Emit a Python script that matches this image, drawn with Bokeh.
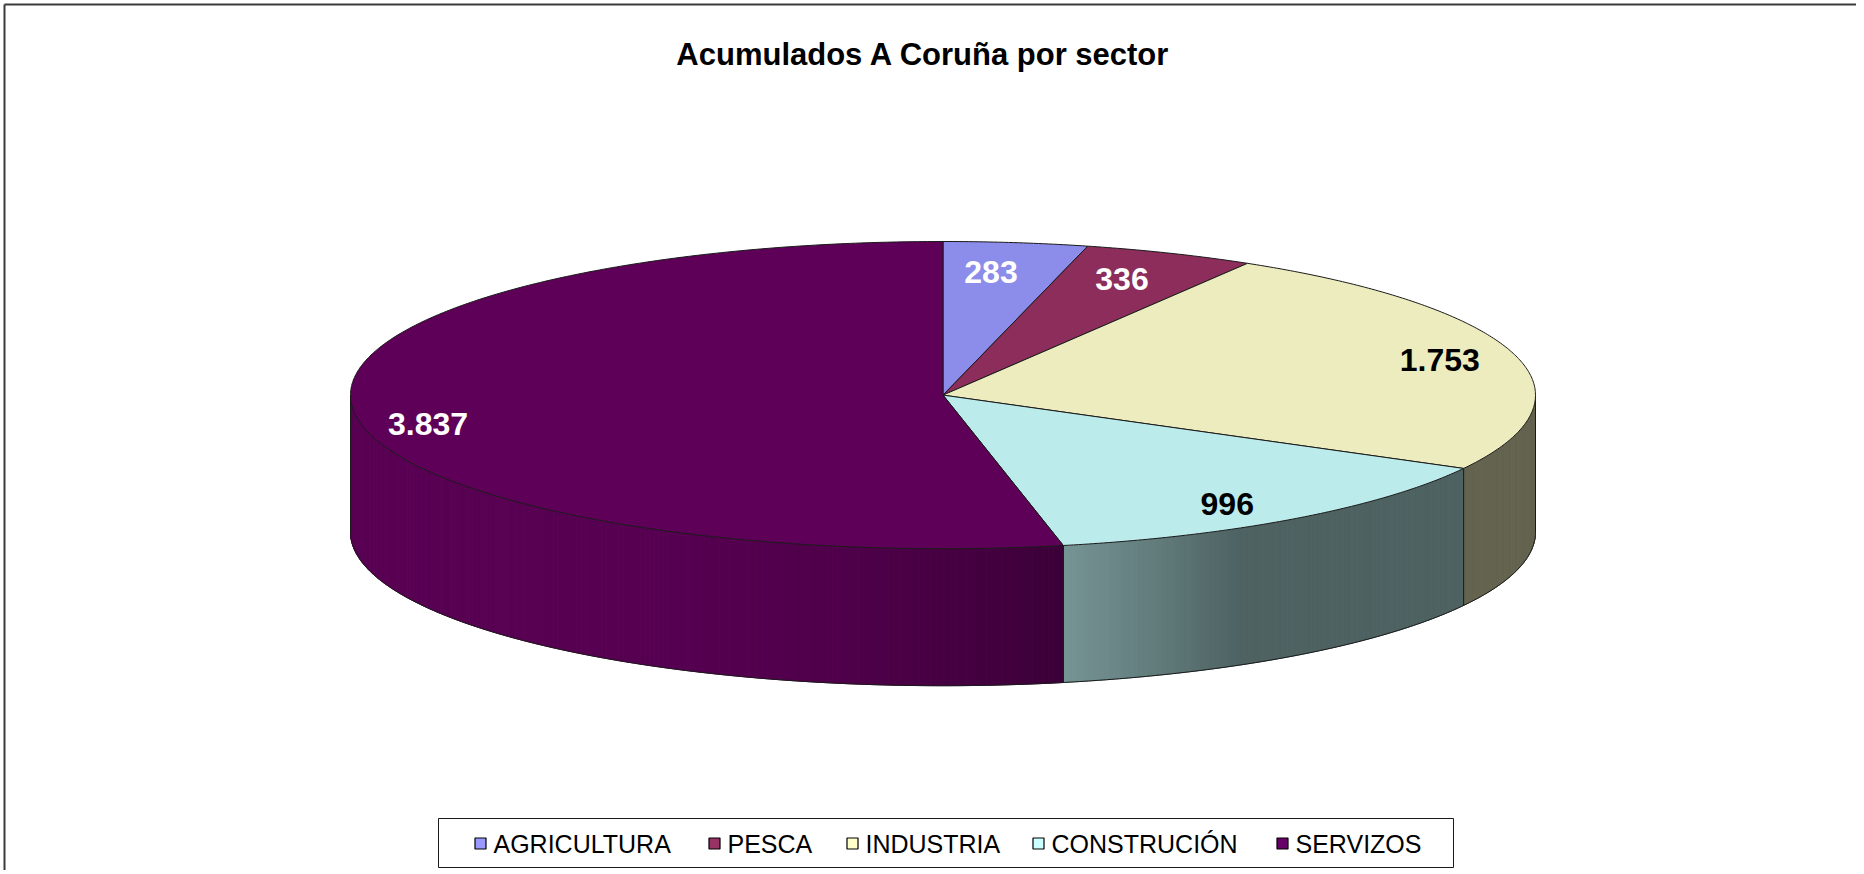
import numpy as np
from bokeh.plotting import figure
from bokeh.models import Range1d, Label
from bokeh.core.properties import value
from bokeh.embed import file_html
from bokeh.resources import INLINE

# ---------------- data ----------------
TITLE = "Acumulados A Coruña por sector"
CATEGORIES = ["AGRICULTURA", "PESCA", "INDUSTRIA", "CONSTRUCIÓN", "SERVIZOS"]
VALUES = [283, 336, 1753, 996, 3837]

# ---------------- style / layout ----------------
TOP_COLORS = ["#8C8CEA", "#8C2D5B", "#ECECBE", "#BBEBEB", "#5E0058"]
LEGEND_COLORS = ["#9999FF", "#993366", "#FFFFCC", "#CCFFFF", "#660066"]
LABEL_COLORS = ["white", "white", "black", "black", "white"]
LABEL_NUDGE = [(-14, 6), (-14, 4), (11, -1), (-16, 4), (-14, 16)]
LEGEND_MARK_X = [480, 714, 852, 1038, 1282]
FONT = "Liberation Sans"

W, H = 1856, 870
CX, CY, A, B, DEPTH = 942.5, 394.6, 592.5, 153.6, 137.0
LABEL_R = 0.85

# shading of the outer wall as a function of angle (clockwise from 12 o'clock)
SHADE_T = [90, 150, 168, 172, 190, 210, 270]
SHADE_F = [0.42, 0.42, 0.63, 0.68, 0.85, 0.93, 0.96]


def shade(hexcol, f):
    h = hexcol.lstrip("#")
    r, g, b = (int(h[i:i + 2], 16) for i in (0, 2, 4))
    return "#%02x%02x%02x" % (int(r * f), int(g * f), int(b * f))


def ex(t):
    return CX + A * np.sin(np.radians(t))


def ey(t):
    return CY - B * np.cos(np.radians(t))


p = figure(width=W, height=H, x_range=Range1d(0, W), y_range=Range1d(H, 0),
           output_backend="svg", toolbar_location=None,
           x_axis_location=None, y_axis_location=None, min_border=0)
p.grid.visible = False
p.outline_line_color = None
p.background_fill_color = "white"
p.border_fill_color = "white"

total = float(sum(VALUES))
angles = np.concatenate([[0.0], np.cumsum(VALUES) / total * 360.0])

# ---------- outer walls (front half) ----------
wall_xs, wall_ys, wall_cols = [], [], []
for i in range(len(VALUES)):
    lo, hi = max(angles[i], 90.0), min(angles[i + 1], 270.0)
    if lo >= hi:
        continue
    n = int(np.ceil((hi - lo) / 0.5)) + 1
    ts = np.linspace(lo, hi, n)
    for t1, t2 in zip(ts[:-1], ts[1:]):
        wall_xs.append([ex(t1), ex(t2), ex(t2), ex(t1)])
        wall_ys.append([ey(t1), ey(t2), ey(t2) + DEPTH, ey(t1) + DEPTH])
        f = float(np.interp((t1 + t2) / 2, SHADE_T, SHADE_F))
        wall_cols.append(shade(TOP_COLORS[i], f))
p.patches(wall_xs, wall_ys, fill_color=wall_cols, line_color=wall_cols, line_width=1)

# wall outlines
tb = np.linspace(90, 270, 400)
edge_xs = [list(ex(tb))]
edge_ys = [list(ey(tb) + DEPTH)]
verts = [90.0, 270.0] + [a for a in angles[1:-1] if 90 < a < 270]
for t in verts:
    edge_xs.append([ex(t), ex(t)])
    edge_ys.append([ey(t), ey(t) + DEPTH])
p.multi_line(edge_xs, edge_ys, line_color="#1a1a1a", line_width=1)

# ---------- top faces ----------
top_xs, top_ys = [], []
for i in range(len(VALUES)):
    n = int(np.ceil((angles[i + 1] - angles[i]) / 0.5)) + 1
    ts = np.linspace(angles[i], angles[i + 1], n)
    top_xs.append([CX] + list(ex(ts)))
    top_ys.append([CY] + list(ey(ts)))
p.patches(top_xs, top_ys, fill_color=TOP_COLORS, line_color="#1a1a1a", line_width=1)

# ---------- data labels ----------
mids = (angles[:-1] + angles[1:]) / 2
lab_x = [CX + LABEL_R * A * np.sin(np.radians(m)) + d[0] for m, d in zip(mids, LABEL_NUDGE)]
lab_y = [CY - LABEL_R * B * np.cos(np.radians(m)) + d[1] for m, d in zip(mids, LABEL_NUDGE)]
lab_txt = [f"{v:,}".replace(",", ".") for v in VALUES]
p.text(lab_x, lab_y, text=lab_txt, text_color=LABEL_COLORS, text_align="center",
       text_baseline="middle", text_font=value(FONT), text_font_style="bold",
       text_font_size="32px")

# ---------- title ----------
p.add_layout(Label(x=923, y=54, text=TITLE, text_align="center", text_baseline="middle",
                   text_font=FONT, text_font_style="bold", text_font_size="31px",
                   text_color="black"))

# ---------- legend ----------
p.quad(left=[438], right=[1453], top=[818], bottom=[867], fill_color="white",
       line_color="#1a1a1a", line_width=1)
p.rect(LEGEND_MARK_X, [843] * 5, width=11, height=11, fill_color=LEGEND_COLORS,
       line_color="black", line_width=1.2)
p.text([x + 13 for x in LEGEND_MARK_X], [843] * 5, text=CATEGORIES, text_color="black",
       text_align="left", text_baseline="middle", text_font=value(FONT),
       text_font_size="25px")

# ---------- chart border (top / left visible) ----------
p.multi_line([[4, 4], [4, W]], [[H, 4], [4, 4]], line_color="#3a3a3a", line_width=2)

open("out.html", "w").write(file_html(p, INLINE))
